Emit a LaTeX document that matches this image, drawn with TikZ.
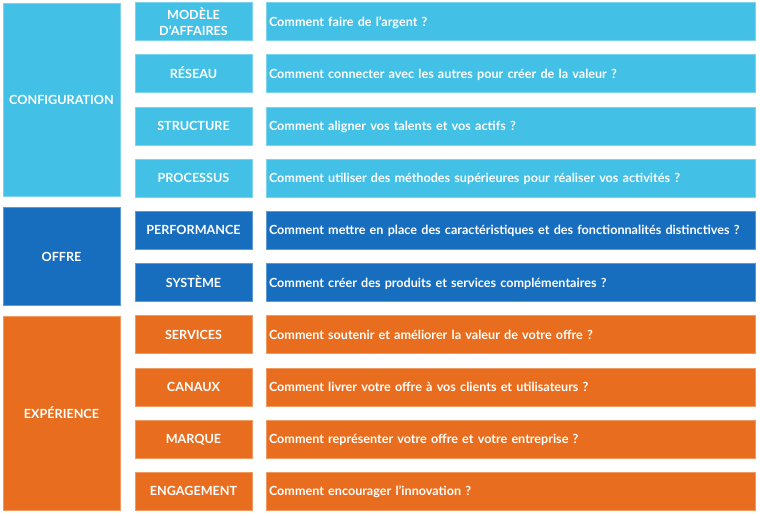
\documentclass[tikz,border=0pt]{standalone}
\usepackage{fontspec}
\setmainfont{Lato}
\definecolor{ciel}{HTML}{42C0E6}
\definecolor{roi}{HTML}{176EBF}
\definecolor{orange}{HTML}{E96D1E}
\tikzset{
  cell/.style={fill=#1, draw=#1!70!white, line width=0.5pt, text=white,
    font=\bfseries\fontsize{12.6}{15.5}\selectfont, inner sep=0pt},
  oneline/.style={text height=9.1pt, text depth=0pt},
  groupbox/.style={cell=#1, oneline, minimum width=117pt, align=center},
  namebox/.style={cell=#1, minimum width=117pt, minimum height=38pt, align=center},
  askbox/.style={cell=#1, oneline, minimum width=489pt, minimum height=38pt,
    text width=483pt, align=left}
}
\begin{document}
\begin{tikzpicture}[x=1pt, y=-1pt]
\useasboundingbox (0,0) rectangle (760,515);
% groups
\node[groupbox=ciel, minimum height=193pt] (config) at (61.5,100) {CONFIGURATION};
\node[groupbox=roi, minimum height=98pt] (offre) at (61.5,256.5) {OFFRE};
\node[groupbox=orange, minimum height=194pt] (experience) at (61.5,413.5) {EXPÉRIENCE};
% names and questions
\node[namebox=ciel] (modele) at (193.5,21.5) {MODÈLE\\D’AFFAIRES};
\node[askbox=ciel] (q-modele) at (510.5,21.5) {Comment faire de l’argent ?};
\node[namebox=ciel, oneline] (reseau) at (193.5,73.7) {RÉSEAU};
\node[askbox=ciel] (q-reseau) at (510.5,73.7) {Comment connecter avec les autres pour créer de la valeur ?};
\node[namebox=ciel, oneline] (structure) at (193.5,125.9) {STRUCTURE};
\node[askbox=ciel] (q-structure) at (510.5,125.9) {Comment aligner vos talents et vos actifs ?};
\node[namebox=ciel, oneline] (processus) at (193.5,178.1) {PROCESSUS};
\node[askbox=ciel] (q-processus) at (510.5,178.1) {Comment utiliser des méthodes supérieures pour réaliser vos activités ?};
\node[namebox=roi, oneline] (performance) at (193.5,230.3) {PERFORMANCE};
\node[askbox=roi] (q-performance) at (510.5,230.3) {Comment mettre en place des caractéristiques et des fonctionnalités distinctives ?};
\node[namebox=roi, oneline] (systeme) at (193.5,282.5) {SYSTÈME};
\node[askbox=roi] (q-systeme) at (510.5,282.5) {Comment créer des produits et services complémentaires ?};
\node[namebox=orange, oneline] (services) at (193.5,334.7) {SERVICES};
\node[askbox=orange] (q-services) at (510.5,334.7) {Comment soutenir et améliorer la valeur de votre offre ?};
\node[namebox=orange, oneline] (canaux) at (193.5,386.9) {CANAUX};
\node[askbox=orange] (q-canaux) at (510.5,386.9) {Comment livrer votre offre à vos clients et utilisateurs ?};
\node[namebox=orange, oneline] (marque) at (193.5,439.1) {MARQUE};
\node[askbox=orange] (q-marque) at (510.5,439.1) {Comment représenter votre offre et votre entreprise ?};
\node[namebox=orange, oneline] (engagement) at (193.5,491.3) {ENGAGEMENT};
\node[askbox=orange] (q-engagement) at (510.5,491.3) {Comment encourager l’innovation ?};
\end{tikzpicture}
\end{document}
